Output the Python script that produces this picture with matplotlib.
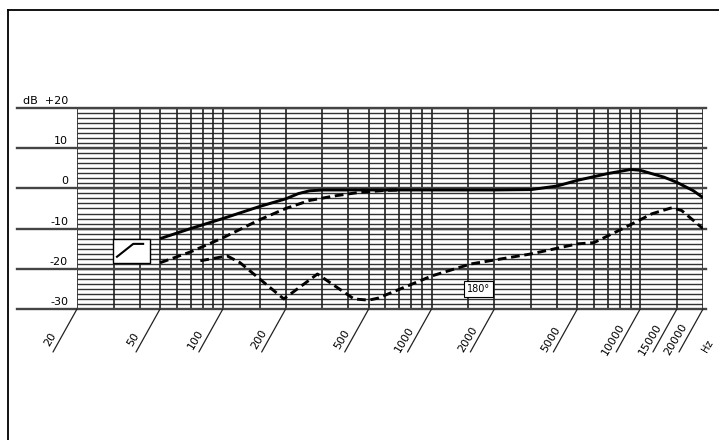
import matplotlib
matplotlib.use('Agg')
import matplotlib.pyplot as plt
from matplotlib.patches import Rectangle
from matplotlib.lines import Line2D
import numpy as np

plt.rcParams['font.family'] = ['DejaVu Sans']

# 0 degree response (solid)
f_0 = [50, 70, 100, 150, 200, 230, 260, 300, 500, 1000, 2000, 3000, 4000, 5000,
       7000, 9000, 10000, 13000, 15000, 18000, 20000]
db_0 = [-12.5, -10.0, -7.5, -4.5, -2.6, -1.3, -0.6, -0.4, -0.4, -0.4, -0.4, -0.3,
        0.6, 2.0, 3.7, 4.7, 4.5, 2.8, 1.5, -0.6, -2.3]

# 90 degree response (dashed, upper)
f_90 = [50, 70, 100, 150, 200, 260, 350, 450, 600, 700]
db_90 = [-18.5, -15.8, -12.3, -7.8, -5.0, -3.0, -1.8, -1.0, -0.5, -0.4]

# 180 degree response (dashed, lower)
f_180 = [78, 105, 121, 196, 284, 425, 500, 554, 1000, 1540, 3000, 5000, 6000,
         8400, 11400, 14200, 15800, 20000]
db_180 = [-18.0, -16.8, -18.5, -27.5, -21.3, -27.5, -27.8, -27.3, -21.8, -18.8,
          -16.3, -13.8, -13.5, -9.8, -6.3, -4.8, -5.5, -10.0]

# low-cut symbol
sym_box = [29.8, 44.8, -18.5, -12.5]
sym_f = [31.1, 37.2, 41.5]
sym_db = [-17.0, -13.8, -13.8]

tick_f = [20, 50, 100, 200, 500, 1000, 2000, 5000, 10000, 15000, 20000]
tick_lab = ['20', '50', '100', '200', '500', '1000', '2000', '5000', '10000', '15000', '20000']
grid_f = [20, 30, 40, 50, 60, 70, 80, 90, 100, 150, 200, 300, 400, 500, 600, 700, 800, 900,
          1000, 1500, 2000, 3000, 4000, 5000, 6000, 7000, 8000, 9000, 10000, 15000, 20000]
major_db = [20, 10, 0, -10, -20, -30]
major_lab = ['dB  +20', '10', '0', '-10', '-20', '-30']
minor_db = np.arange(-30, 20.01, 1.25)

px = 0.72  # points per pixel at dpi 100

fig = plt.figure(figsize=(7.19, 4.40), dpi=100)
ax = fig.add_axes([77 / 719, 131 / 440, 626 / 719, 201 / 440])
ax.set_xscale('log')
ax.set_xlim(20, 20000)
ax.set_ylim(-30, 20)
for s in ax.spines.values():
    s.set_visible(False)
ax.set_xticks([])
ax.set_xticks([], minor=True)
ax.set_yticks([])
ax.patch.set_alpha(0)

# grid
ax.hlines(minor_db, 20, 20000, color='#333333', lw=1.0, zorder=1)
ax.vlines(grid_f, -30, 20, color='#222222', lw=1.2, zorder=1)
for v in major_db:
    ax.plot([-60 / 626, 1.004], [v, v], transform=ax.get_yaxis_transform(),
            color='#444444', lw=1.7, clip_on=False, zorder=1)

# y labels
for v, lab in zip(major_db, major_lab):
    ax.annotate(lab, xy=(0, v), xycoords=('axes fraction', 'data'),
                xytext=(-9 * px, 2 * px), textcoords='offset points',
                ha='right', va='bottom', fontsize=8)

# x labels with slanted leader lines
for f, lab in zip(tick_f, tick_lab):
    ax.annotate('', xy=(f, 0), xycoords=('data', 'axes fraction'),
                xytext=(-24 * px, -43 * px), textcoords='offset points',
                arrowprops=dict(arrowstyle='-', lw=0.9, color='#222222',
                                shrinkA=0, shrinkB=0))
    ax.annotate(lab, xy=(f, 0), xycoords=('data', 'axes fraction'),
                xytext=(-27 * px, -30 * px), textcoords='offset points',
                rotation=59, rotation_mode='anchor', ha='center', va='center',
                fontsize=8)
ax.annotate('Hz', xy=(20000, 0), xycoords=('data', 'axes fraction'),
            xytext=(5 * px, -37 * px), textcoords='offset points',
            rotation=59, rotation_mode='anchor', ha='center', va='center', fontsize=7)

# curves
ax.plot(f_0, db_0, color='k', lw=2.1, zorder=4, solid_capstyle='butt')
ax.plot(f_90, db_90, color='k', lw=2.1, dashes=(3, 1.6), zorder=4)
ax.plot(f_180, db_180, color='k', lw=2.1, dashes=(3, 1.6), zorder=4)

# 180 label
ax.text(1676, -25.1, '180°', ha='center', va='center', fontsize=7, zorder=5,
        bbox=dict(boxstyle='square,pad=0.3', fc='white', ec='k', lw=0.8))

# low-cut symbol
ax.add_patch(Rectangle((sym_box[0], sym_box[2]), sym_box[1] - sym_box[0],
                       sym_box[3] - sym_box[2], fc='white', ec='k', lw=1.0, zorder=5))
ax.plot(sym_f, sym_db, color='k', lw=1.5, zorder=6)

# page frame
fig.add_artist(Line2D([8 / 719, 8 / 719], [0, 1 - 10 / 440], transform=fig.transFigure,
                      color='k', lw=1.3))
fig.add_artist(Line2D([8 / 719, 1], [1 - 10 / 440, 1 - 10 / 440], transform=fig.transFigure,
                      color='k', lw=1.3))

fig.savefig('out.png', dpi=100)
